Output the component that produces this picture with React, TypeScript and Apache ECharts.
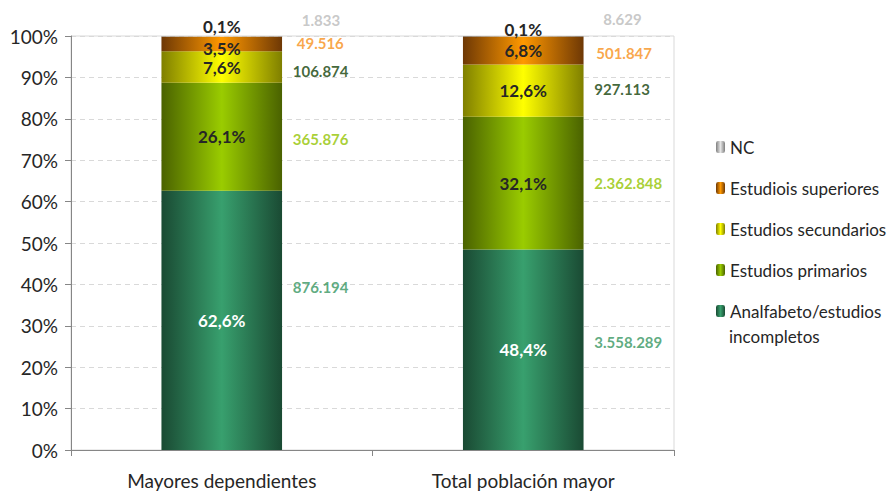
import React, { useEffect, useRef } from "react";
import * as echarts from "echarts";

const categories = ["Mayores dependientes", "Total población mayor"];
const seriesNames = [
  "Analfabeto/estudios incompletos",
  "Estudios primarios",
  "Estudios secundarios",
  "Estudiois superiores",
  "NC",
];
// percentages per segment (bottom to top)
const analfPct = [62.6, 48.4];
const primPct = [26.1, 32.1];
const secPct = [7.6, 12.6];
const supPct = [3.5, 6.8];
const ncPct = [0.1, 0.1];
// absolute values
const analfAbs = [876194, 3558289];
const primAbs = [365876, 2362848];
const secAbs = [106874, 927113];
const supAbs = [49516, 501847];
const ncAbs = [1833, 8629];
const yTicks = [0, 10, 20, 30, 40, 50, 60, 70, 80, 90, 100];

const FONT = "Lato";

function fmtThousands(n: number): string {
  const s = String(Math.round(n));
  return s.replace(/\B(?=(\d{3})+(?!\d))/g, ".");
}
function fmtPct(v: number): string {
  return v.toFixed(1).replace(".", ",") + "%";
}

function grad(edge: string, center: string) {
  return new echarts.graphic.LinearGradient(0, 0, 1, 0, [
    { offset: 0, color: edge },
    { offset: 0.5, color: center },
    { offset: 1, color: edge },
  ]);
}

export default function App() {
  const ref = useRef<HTMLDivElement>(null);
  useEffect(() => {
    document.body.style.margin = "0";
    if (!ref.current) return;
    const chart = echarts.init(ref.current, null, { renderer: "svg" });

    const pctSets = [analfPct, primPct, secPct, supPct, ncPct];
    const absSets = [analfAbs, primAbs, secAbs, supAbs, ncAbs];
    const fills = [
      grad("#1a4a33", "#38a06e"),
      grad("#4a6200", "#9acc00"),
      grad("#7f7f00", "#ffff00"),
      grad("#6e3805", "#ff9900"),
      grad("#7f7f7f", "#e6e6e6"),
    ];
    const pctLabelColors = ["#ffffff", "#262626", "#262626", "#262626", "#262626"];
    const absLabelColors = ["#35965f", "#93c400", "#123f06", "#f7901a", "#bababa"];
    // per-item nudges of labels (pixels)
    const pctOffsets = [
      [[0, 0], [0, 0]],
      [[0, 0], [0, 0]],
      [[0, 0], [0, 0]],
      [[0, 4], [0, 0]],
      [[0, -10], [0, -7]],
    ];
    const absOffsets = [
      [[71, -33], [71, -8]],
      [[71, 2], [71, 0]],
      [[71, 4], [71, -2]],
      [[75, -1], [73, 3]],
      [[80, -17], [80, -17]],
    ];

    const barSeries: any[] = seriesNames.map((name, si) => ({
      name,
      type: "bar",
      stack: "total",
      barWidth: "40%",
      itemStyle: { color: fills[si] },
      data: pctSets[si].map((v, ci) => ({
        value: v,
        label: { offset: pctOffsets[si][ci] },
      })),
      label: {
        show: true,
        position: "inside",
        formatter: (p: any) => fmtPct(p.value),
        color: pctLabelColors[si],
        fontFamily: FONT,
        fontWeight: "bold",
        fontSize: 17,
        lineHeight: 16,
      },
    }));

    const labelSeries: any[] = seriesNames.map((name, si) => {
      const data = pctSets[si].map((v, ci) => {
        let base = 0;
        for (let k = 0; k < si; k++) base += pctSets[k][ci];
        return {
          value: [ci, base + v / 2],
          abs: absSets[si][ci],
          label: { offset: absOffsets[si][ci] },
        };
      });
      return {
        name: "lbl-" + si,
        type: "scatter",
        symbolSize: 0,
        silent: true,
        clip: false,
        z: 10,
        data,
        label: {
          show: true,
          position: "inside",
          align: "left",
          formatter: (p: any) => fmtThousands(p.data.abs),
          color: absLabelColors[si],
          fontFamily: FONT,
          fontWeight: "bold",
          fontSize: 15,
        },
      };
    });

    const legendText = {
      fontFamily: FONT,
      fontSize: 17,
      color: "#262626",
    };

    chart.setOption({
      animation: false,
      grid: {
        left: 71,
        right: 214,
        top: 36,
        bottom: 41,
        show: true,
        borderColor: "#d9d9d9",
        borderWidth: 1,
      },
      legend: {
        data: [
          "NC",
          "Estudiois superiores",
          "Estudios secundarios",
          "Estudios primarios",
          "Analfabeto/estudios incompletos",
        ],
        orient: "vertical",
        left: 711,
        top: 132,
        itemWidth: 9,
        itemHeight: 12,
        itemGap: 21,
        formatter: (n: string) =>
          n === "Analfabeto/estudios incompletos" ? "Analfabeto/estudios" : n,
        textStyle: { ...legendText, lineHeight: 20 },
        selectedMode: false,
      },
      graphic: [
        {
          type: "text",
          left: 729,
          top: 328,
          style: {
            text: "incompletos",
            fontFamily: FONT,
            fontSize: 17,
            fill: "#262626",
          },
        },
      ],
      xAxis: {
        type: "category",
        data: categories,
        axisLine: { lineStyle: { color: "#868686" } },
        axisTick: { show: true, length: 6, lineStyle: { color: "#868686" } },
        axisLabel: {
          margin: 21,
          fontFamily: FONT,
          fontSize: 19,
          color: "#262626",
        },
      },
      yAxis: {
        type: "value",
        min: yTicks[0],
        max: yTicks[yTicks.length - 1],
        interval: yTicks[1] - yTicks[0],
        axisLine: { show: true, lineStyle: { color: "#868686" } },
        axisTick: { show: true, length: 6, lineStyle: { color: "#868686" } },
        axisLabel: {
          formatter: "{value}%",
          margin: 13,
          fontFamily: FONT,
          fontSize: 19,
          color: "#262626",
        },
        splitLine: {
          show: true,
          lineStyle: { color: "#d9d9d9", type: [5, 4] },
        },
      },
      series: [...barSeries, ...labelSeries],
    });
    return () => chart.dispose();
  }, []);
  return (
    <div
      ref={ref}
      style={{ position: "absolute", left: 0, top: 0, width: 888, height: 491 }}
    />
  );
}
